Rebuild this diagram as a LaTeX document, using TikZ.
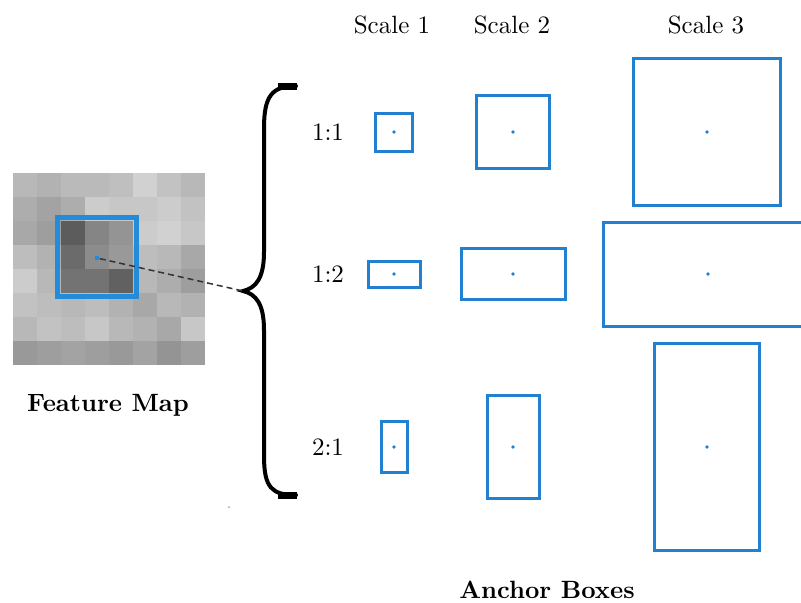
\documentclass[tikz,border=0pt]{standalone}
\usepackage{tikz}
\definecolor{AnchorBlue}{RGB}{33, 128, 208}
\definecolor{MapBlue}{RGB}{36, 138, 218}

\begin{document}
\begin{tikzpicture}[x=0.4pt, y=-0.4pt, font=\normalsize, anc/.style={draw=AnchorBlue, line width=1.2pt, inner sep=0pt}, ctr/.style={fill=AnchorBlue, circle, inner sep=0pt, minimum size=1.5pt}, brc/.style={line width=1.6pt, line cap=round}, brcend/.style={line width=2.8pt}, lbl/.style={inner sep=1pt}]
\useasboundingbox (0,0) rectangle (801,602);
\clip (0,0) rectangle (801,602);
% feature map grid
\foreach \vals [count=\r from 0] in {{72,70,73,73,75,82,76,72},{68,64,68,80,78,78,80,76},{66,62,36,52,58,80,82,78},{74,70,42,55,60,74,72,66},{80,72,45,45,38,72,68,62},{76,74,72,74,70,66,72,70},{72,76,74,78,72,70,66,78},{60,62,64,62,60,64,58,62}} {
  \foreach \v [count=\c from 0] in \vals
    \fill[white!\v!black] ({13+24*\c},{173+24*\r}) rectangle ++(24,24);
}
\node[draw=MapBlue, line width=1.7pt, minimum size=31.6pt, inner sep=0pt] (win) at (97,257) {};
\node[fill=MapBlue, inner sep=0pt, minimum size=1.8pt] (fmc) at (97,258) {};
\node[font=\bfseries] (fm) at (108,405) {Feature Map};
% brace and link
\coordinate (tip) at (243,291);
\draw[brc] (296,86) .. controls (272,86) and (264,96) .. (264,128) -- (264,252) .. controls (264,278) and (256,288) .. (tip) .. controls (256,294) and (264,304) .. (264,330) -- (264,456) .. controls (264,488) and (272,495) .. (296,495);
\draw[brcend] (278,86) -- (297,86);
\draw[brcend] (278,495) -- (297,495);
\draw[dashed, dash pattern=on 2.4pt off 1.6pt, gray!40!black, line width=0.6pt] (fmc) -- (tip);
\fill[gray!50] (229,507) circle (0.5pt);
% headers and ratios
\node[lbl] (h1) at (392,25) {Scale 1};
\node[lbl] (h2) at (512,25) {Scale 2};
\node[lbl] (h3) at (706,25) {Scale 3};
\node[lbl] (r1) at (328,132) {1:1};
\node[lbl] (r2) at (328,274) {1:2};
\node[lbl] (r3) at (328,447) {2:1};
% anchor boxes
\node[anc, minimum width=14.8pt, minimum height=15.2pt] (a11) at (394,132) {};
\node[anc, minimum width=29.2pt, minimum height=29.2pt] (a12) at (513,132) {};
\node[anc, minimum width=58.8pt, minimum height=58.8pt] (a13) at (707,132) {};
\node[anc, minimum width=20.8pt, minimum height=10.4pt] (a21) at (394,274) {};
\node[anc, minimum width=41.6pt, minimum height=20.4pt] (a22) at (513,274) {};
\node[anc, minimum width=84pt, minimum height=41.6pt] (a23) at (708,274) {};
\node[anc, minimum width=10.4pt, minimum height=20.4pt] (a31) at (394,447) {};
\node[anc, minimum width=20.8pt, minimum height=41.2pt] (a32) at (513,447) {};
\node[anc, minimum width=42pt, minimum height=82.8pt] (a33) at (707,447) {};
\foreach \n in {a11,a12,a13,a21,a22,a23,a31,a32,a33} \node[ctr] at (\n.center) {};
\node[font=\bfseries] (ab) at (547,590) {Anchor Boxes};
\end{tikzpicture}
\end{document}
